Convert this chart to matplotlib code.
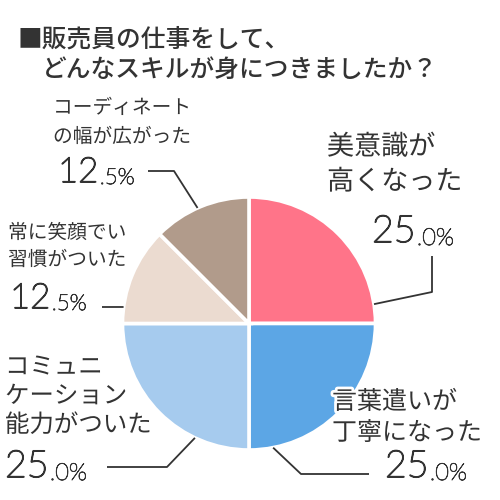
import numpy as np
import matplotlib
matplotlib.use("Agg")
import matplotlib.pyplot as plt
import matplotlib.patheffects as pe

# ---- data ----
labels = ["美意識が\n高くなった", "言葉遣いが\n丁寧になった", "コミュニ\nケーション\n能力がついた",
          "常に笑顔でい\n習慣がついた", "コーディネート\nの幅が広がった"]
values = [25.0, 25.0, 25.0, 12.5, 12.5]
colors = ["#FF7489", "#5CA6E5", "#A6CBEE", "#EBDBD0", "#B19B8B"]
title_lines = ["■販売員の仕事をして、", "どんなスキルが身につきましたか？"]

plt.rcParams['font.family'] = ['Noto Sans CJK JP', 'DejaVu Sans']
TXT = "#333333"

fig = plt.figure(figsize=(5, 5), dpi=100)
ax = fig.add_axes([0, 0, 1, 1])

H = 500
def Y(y):
    return H - y

cx, cy, R = 249.0, Y(323.5), 126.5
wedges, _ = ax.pie(values, colors=colors, startangle=90, counterclock=False,
                   center=(cx, cy), radius=R, frame=True,
                   wedgeprops=dict(edgecolor='white', linewidth=2.6))
ax.set_xlim(0, 500)
ax.set_ylim(0, 500)
ax.set_aspect('equal')
ax.axis('off')

# title
fig.text(18/500, 1 - 40/500, title_lines[0], fontsize=17.8, color=TXT, va='center', ha='left',
         fontweight='medium')
fig.text(42/500, 1 - 70/500, title_lines[1], fontsize=17.8, color=TXT, va='center', ha='left',
         fontweight='medium')

# label layout (style): (x, y_center_first_line, fontsize, linespacing_px)
label_style = [
    (327, 147, 19.5, 35),
    (332, 402, 18.0, 31),
    (5, 367, 17.6, 29),
    (8, 233, 14.2, 27),
    (53, 108, 14.2, 29),
]
pct_style = [  # x, y_center, big fs, small fs
    (372, 232, 27, 17),
    (385, 467, 27, 17),
    (5, 467, 27, 17),
    (10, 298, 25, 16),
    (58, 172, 25, 16),
]
# leader geometry: attach angle (deg), then elbow/end points in image px
leaders = [
    (8.8, [(432, 292), (432, 256)]),
    (281, [(301, 474), (369, 474)]),
    (244.7, [(167, 467), (107, 467)]),
    (172.5, [(102, 307)]),
    (114, [(174, 171), (148, 171)]),
]

thick_big = [pe.withStroke(linewidth=1.1, foreground=TXT)]
thick_small = [pe.withStroke(linewidth=0.6, foreground=TXT)]
for i, lab in enumerate(labels):
    x, y0, fs, ls = label_style[i]
    for j, line in enumerate(lab.split("\n")):
        t = ax.text(x, Y(y0 + j * ls), line, fontsize=fs, color=TXT,
                    ha='left', va='center', zorder=5)
        t.set_path_effects([pe.withStroke(linewidth=4, foreground='white')])
    v = values[i]
    s = f"{v:.1f}"
    big, small = s.split(".")
    px, py, bfs, sfs = pct_style[i]
    bt = ax.text(px, Y(py), big, fontsize=bfs, color=TXT, ha='left', va='center',
                 family=['Lato', 'DejaVu Sans'], fontweight='light', zorder=5,
                 path_effects=thick_big)
    ax.annotate("." + small + "%", xy=(1, 0), xycoords=bt, xytext=(1, 0),
                textcoords='offset points', fontsize=sfs, color=TXT,
                family=['Lato', 'DejaVu Sans'], fontweight='light',
                ha='left', va='bottom', zorder=5, path_effects=thick_small)
    ang, pts = leaders[i]
    a = np.deg2rad(ang)
    xs = [cx + R * np.cos(a)] + [p[0] for p in pts]
    ys = [cy + R * np.sin(a)] + [Y(p[1]) for p in pts]
    ax.plot(xs, ys, color=TXT, lw=1.3, zorder=4, solid_capstyle='butt')

fig.savefig("out.png", dpi=100, facecolor='white')
